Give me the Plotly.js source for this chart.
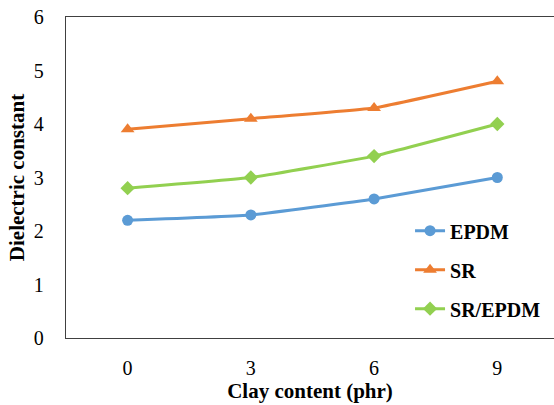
<!DOCTYPE html>
<html><head><meta charset="utf-8">
<script src="https://cdn.plot.ly/plotly-3.0.1.min.js"></script>
<style>body{margin:0;padding:0;background:#fff}#chart{width:554px;height:405px}</style>
</head><body><div id="chart"></div>
<script>
const categories = ['0','3','6','9'];
const epdm = [2.2, 2.3, 2.6, 3.0];
const sr = [3.9, 4.1, 4.3, 4.8];
const srEpdm = [2.8, 3.0, 3.4, 4.0];
const seriesNames = ['EPDM','SR','SR/EPDM'];

const font = 'Liberation Serif';
function tr(name, y, color, symbol, size, grp){
  return {x: categories, y: y, name: name, type:'scatter', mode:'lines+markers',
    line:{color:color, width:3, shape:'spline', smoothing:0.3},
    marker:{color:color, symbol:symbol, size:size}, legendgroup:grp};
}
const data = [
  tr(seriesNames[0], epdm, '#5B9BD5', 'circle', 11, 'a'),
  tr(seriesNames[1], sr, '#ED7D31', 'triangle-up', 12, 'b'),
  tr(seriesNames[2], srEpdm, '#92D050', 'diamond', 11, 'c')
];
const layout = {
  width:554, height:405,
  margin:{l:66, r:0, t:17, b:67},
  paper_bgcolor:'#fff', plot_bgcolor:'#fff',
  font:{family:font, color:'#000', size:20},
  showlegend:true,
  legend:{x:0.705, y:0.395, xanchor:'left', yanchor:'top', tracegroupgap:10,
    font:{family:font, size:20, weight:'bold', color:'#000'}, bgcolor:'rgba(0,0,0,0)'},
  xaxis:{type:'category', range:[-0.5, 3.46], showline:true, linecolor:'#404040', linewidth:1.3,
    mirror:true, showgrid:false, zeroline:false, ticks:'', ticklabelstandoff:12,
    tickfont:{size:20, family:font, color:'#000'},
    title:{text:'<b>Clay content (phr)</b>', font:{size:21, family:font, color:'#000'}, standoff:2}},
  yaxis:{range:[0,6], dtick:1, showline:true, linecolor:'#404040', linewidth:1.3,
    showgrid:false, zeroline:false, ticks:'', ticklabelstandoff:17,
    tickfont:{size:20, family:font, color:'#000'},
    title:{text:'<b>Dielectric constant</b>', font:{size:21, family:font, color:'#000'}, standoff:3}}
};
Plotly.newPlot('chart', data, layout, {displayModeBar:false, staticPlot:true});
</script></body></html>
